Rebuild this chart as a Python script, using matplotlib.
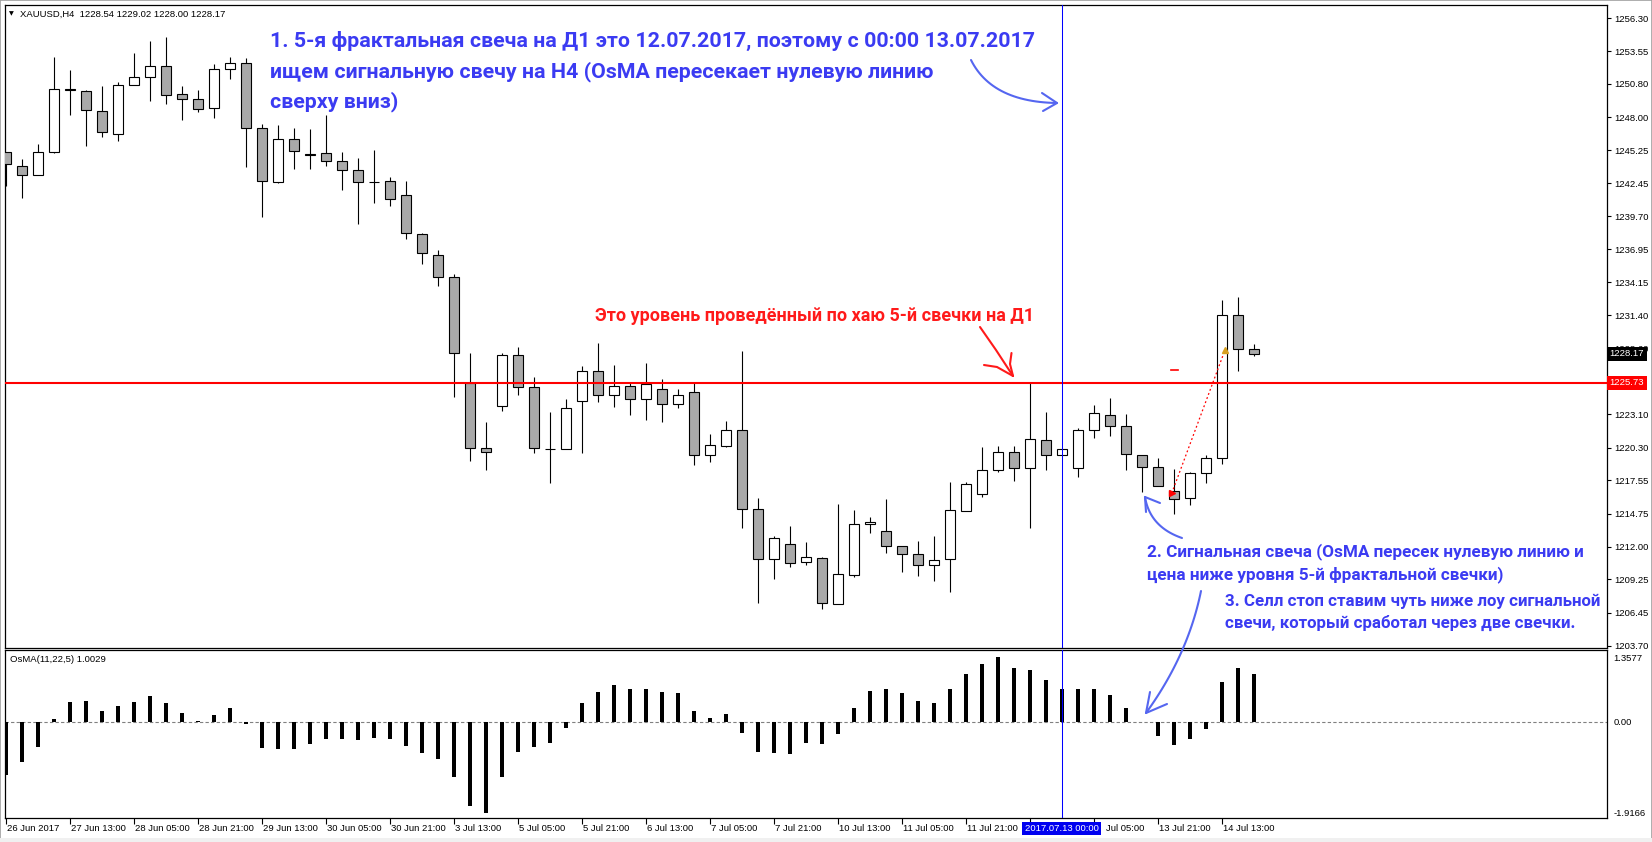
import numpy as np
import matplotlib
matplotlib.use("Agg")
import matplotlib.pyplot as plt
import matplotlib.transforms as mtransforms
from matplotlib.patches import Rectangle
from matplotlib.lines import Line2D

# XAUUSD H4 bars, index 0..78 (left to right)
opens = [1245.07, 1243.89, 1243.14, 1245.12, 1250.35, 1250.18, 1248.53, 1246.57, 1250.68, 1251.35,
         1252.28, 1249.93, 1249.51, 1248.80, 1252.02, 1252.53, 1247.08, 1242.55, 1246.16, 1244.90,
         1244.98, 1244.31, 1243.56, 1242.58, 1242.63, 1241.46, 1238.19, 1236.43, 1234.59, 1225.73,
         1220.25, 1223.77, 1228.05, 1225.36, 1220.19, 1220.16, 1224.19, 1226.70, 1224.69, 1225.45,
         1224.36, 1225.20, 1223.94, 1224.94, 1219.66, 1220.42, 1221.76, 1215.14, 1210.94, 1212.20,
         1210.69, 1211.03, 1207.17, 1209.60, 1213.88, 1213.29, 1212.03, 1211.36, 1210.44, 1210.94,
         1214.97, 1216.39, 1218.41, 1219.91, 1218.57, 1220.92, 1219.66, 1218.57, 1221.76, 1223.02,
         1222.09, 1219.66, 1218.66, 1216.64, 1216.06, 1218.15, 1219.41, 1231.40, 1228.54]
highs = [1245.12, 1244.48, 1245.76, 1253.06, 1251.97, 1250.25, 1250.62, 1250.96, 1253.39, 1254.40,
         1254.73, 1250.62, 1250.29, 1252.47, 1253.03, 1252.95, 1247.41, 1247.35, 1247.08, 1246.99,
         1248.19, 1245.09, 1244.56, 1245.23, 1242.97, 1242.66, 1238.27, 1236.85, 1234.86, 1228.24,
         1222.45, 1228.24, 1228.74, 1226.20, 1223.27, 1224.38, 1227.15, 1229.08, 1227.23, 1225.70,
         1227.40, 1226.03, 1225.20, 1225.70, 1221.42, 1222.54, 1228.41, 1216.06, 1212.87, 1213.71,
         1212.37, 1211.10, 1215.55, 1215.10, 1214.46, 1215.97, 1212.03, 1212.45, 1212.87, 1217.42,
         1217.42, 1220.36, 1220.42, 1220.42, 1225.73, 1223.27, 1220.16, 1221.93, 1223.88, 1224.47,
         1223.10, 1219.66, 1219.41, 1218.49, 1218.23, 1219.66, 1232.66, 1232.91, 1229.02]
lows = [1242.27, 1241.26, 1243.14, 1245.03, 1248.19, 1245.62, 1246.37, 1246.04, 1250.68, 1249.39,
        1249.14, 1247.80, 1248.47, 1247.97, 1251.21, 1243.86, 1239.67, 1242.47, 1243.69, 1243.69,
        1243.94, 1241.93, 1239.08, 1240.84, 1240.59, 1237.82, 1235.68, 1233.83, 1224.58, 1219.21,
        1218.45, 1223.40, 1224.74, 1219.88, 1217.36, 1220.16, 1219.88, 1224.16, 1223.74, 1223.07,
        1222.65, 1222.48, 1223.65, 1218.88, 1219.13, 1220.34, 1213.59, 1207.30, 1209.27, 1210.27,
        1210.44, 1206.75, 1207.17, 1209.49, 1213.17, 1211.50, 1209.90, 1209.52, 1209.15, 1208.20,
        1214.97, 1216.19, 1218.24, 1217.53, 1213.54, 1218.41, 1219.66, 1217.82, 1221.09, 1221.26,
        1218.41, 1216.56, 1217.06, 1214.72, 1215.47, 1217.31, 1218.91, 1226.70, 1228.00]
closes = [1244.06, 1243.14, 1245.07, 1250.35, 1250.25, 1248.59, 1246.74, 1250.68, 1251.35, 1252.28,
          1249.84, 1249.51, 1248.67, 1252.02, 1252.53, 1247.08, 1242.63, 1246.16, 1245.15, 1244.86,
          1244.31, 1243.56, 1242.55, 1242.55, 1241.13, 1238.27, 1236.60, 1234.59, 1228.21, 1220.25,
          1219.91, 1228.05, 1225.36, 1220.25, 1220.16, 1223.60, 1226.70, 1224.69, 1225.45, 1224.36,
          1225.64, 1223.94, 1224.69, 1219.66, 1220.50, 1221.76, 1215.14, 1210.94, 1212.70, 1210.61,
          1211.11, 1207.25, 1209.69, 1213.88, 1214.10, 1212.03, 1211.36, 1210.44, 1210.86, 1215.05,
          1217.23, 1218.41, 1219.91, 1218.57, 1221.00, 1219.66, 1220.16, 1221.76, 1223.18, 1222.09,
          1219.75, 1218.66, 1217.06, 1215.97, 1218.15, 1219.41, 1231.40, 1228.55, 1228.17]
osma = [-1.116, -0.842, -0.526, 0.063, 0.414, 0.442, 0.232, 0.337, 0.421, 0.547,
        0.400, 0.189, 0.014, 0.147, 0.288, -0.049, -0.554, -0.575, -0.575, -0.463,
        -0.358, -0.358, -0.379, -0.337, -0.358, -0.505, -0.653, -0.779, -1.158, -1.768,
        -1.9166, -1.158, -0.632, -0.526, -0.442, -0.140, 0.386, 0.618, 0.765, 0.695,
        0.695, 0.625, 0.604, 0.232, 0.084, 0.168, -0.232, -0.632, -0.653, -0.674,
        -0.442, -0.463, -0.253, 0.288, 0.646, 0.695, 0.604, 0.435, 0.386, 0.681,
        1.004, 1.214, 1.3577, 1.130, 1.088, 0.877, 0.695, 0.681, 0.695, 0.568,
        0.288, -0.010, -0.302, -0.491, -0.365, -0.154, 0.835, 1.130, 1.0029]

# 1225.85 sits under the red level box, so only its tick is visible
price_ticks = [1256.30, 1253.55, 1250.80, 1248.00, 1245.25, 1242.45, 1239.70, 1236.95, 1234.15, 1231.40,
               1228.60, 1225.85, 1223.10, 1220.30, 1217.55, 1214.75, 1212.00, 1209.25, 1206.45, 1203.70]
hidden_price_ticks = [1225.85]
osma_ticks = [1.3577, 0.0, -1.9166]
osma_tick_labels = ["1.3577", "0.00", "-1.9166"]
time_bars = [0, 4, 8, 12, 16, 20, 24, 28, 32, 36, 40, 44, 48, 52, 56, 60, 64, 68, 72, 76]
time_labels = ["26 Jun 2017", "27 Jun 13:00", "28 Jun 05:00", "28 Jun 21:00", "29 Jun 13:00",
               "30 Jun 05:00", "30 Jun 21:00", "3 Jul 13:00", "5 Jul 05:00", "5 Jul 21:00",
               "6 Jul 13:00", "7 Jul 05:00", "7 Jul 21:00", "10 Jul 13:00", "11 Jul 05:00",
               "11 Jul 21:00", "", "Jul 05:00", "13 Jul 21:00", "14 Jul 13:00"]

level_price = 1225.73
vline_bar = 66
vline_label = "2017.07.13 00:00"
last_price = 1228.17
trade_open = (72.86, 1216.48)
trade_close = (76.19, 1228.50)
stop_mark = (73.0, 1226.84)
header = "XAUUSD,H4  1228.54 1229.02 1228.00 1228.17"
osma_header = "OsMA(11,22,5) 1.0029"

plt.rcParams['font.family'] = ['Liberation Sans Narrow', 'Liberation Sans', 'DejaVu Sans']
small = 6.8
ann_font = ['Roboto', 'Open Sans', 'DejaVu Sans']
blue_txt = '#3b3bf2'
blue_pen = '#5566f0'

W, H = 1652, 842
fig = plt.figure(figsize=(W / 100, H / 100), dpi=100)
fig.patch.set_facecolor('white')


def fx(x):
    return x / W


def fy(y):
    return 1 - y / H


# panels placed to match the terminal window (pixels)
L, R = 5, 1607
ax = fig.add_axes([fx(L), fy(648.3), (R - L) / W, (648.3 - 5) / H])
ax2 = fig.add_axes([fx(L), fy(818.3), (R - L) / W, (818.3 - 650) / H])

n = len(opens)
idx = np.arange(n)
xlim = ((L - 6) / 16, (R - 6) / 16)

# candles
for i in range(n):
    o, h, l, c = opens[i], highs[i], lows[i], closes[i]
    ax.vlines(i, l, h, color='black', lw=0.8, zorder=2)
    bot = min(o, c)
    hgt = max(abs(c - o), 0.06)
    fc = 'white' if c >= o else '#a9a9a9'
    ax.add_patch(Rectangle((i - 0.3, bot), 0.6, hgt, facecolor=fc, edgecolor='black', lw=0.8, zorder=3))

ax.axhline(level_price, color='#ff0000', lw=1.5, zorder=4)
ax.axvline(vline_bar, color='#0000ff', lw=0.75, zorder=4)

# trade marks
ax.plot([trade_open[0], trade_close[0]], [trade_open[1], trade_close[1]], color='red', lw=0.9,
        ls=(0, (1.5, 2)), zorder=5)
ax.plot(trade_open[0], trade_open[1], marker='>', color='red', ms=5, zorder=6)
ax.plot(trade_close[0], trade_close[1], marker='^', color='#d8a020', ms=5, zorder=6)
ax.plot([stop_mark[0] - 0.2, stop_mark[0] + 0.25], [stop_mark[1]] * 2, color='red', lw=1.2, zorder=5)

ax.set_xlim(*xlim)
ax.set_ylim(1203.48, 1257.415)
ax.set_xticks([])
ax.yaxis.tick_right()
ax.set_yticks(price_ticks)
ax.set_yticklabels(["" if p in hidden_price_ticks else "%.2f" % p for p in price_ticks])
ax.tick_params(axis='y', length=3, width=0.8, pad=2, labelsize=small)
for s in ax.spines.values():
    s.set_linewidth(0.9)

# price boxes on the scale
yt = mtransforms.blended_transform_factory(ax.transAxes, ax.transData)
ax.text(1.0015, last_price, "%.2f" % last_price, transform=yt,
        ha='left', va='center', color='white', fontsize=small, zorder=10, clip_on=False,
        bbox=dict(facecolor='black', edgecolor='none', pad=2.0))
ax.text(1.0015, level_price, "%.2f" % level_price, transform=yt,
        ha='left', va='center', color='white', fontsize=small, zorder=10, clip_on=False,
        bbox=dict(facecolor='#ff0000', edgecolor='none', pad=2.0))

# OsMA panel
ax2.bar(idx, osma, width=0.2, color='black', zorder=3)
ax2.axhline(0, color='#808080', lw=0.8, ls=(0, (3, 2)), zorder=2)
ax2.axvline(vline_bar, color='#0000ff', lw=0.75, zorder=4)
ax2.set_xlim(*xlim)
ax2.set_ylim(-2.034, 1.511)
ax2.yaxis.tick_right()
ax2.set_yticks(osma_ticks)
ax2.set_yticklabels(osma_tick_labels)
ax2.tick_params(axis='y', length=0, pad=4.5, labelsize=small)
ax2.set_xticks(time_bars)
ax2.tick_params(axis='x', length=4, width=0.8, labelbottom=False)
for s in ax2.spines.values():
    s.set_linewidth(0.9)

bt = mtransforms.blended_transform_factory(ax2.transData, ax2.transAxes)
for b, lab in zip(time_bars, time_labels):
    if not lab:
        continue
    # the label right of the date box is partly covered in the terminal
    x = b + 0.75 if lab.startswith("Jul") else b + 0.07
    ax2.text(x, -0.063, lab, transform=bt, ha='left', va='center', fontsize=small, clip_on=False)
ax2.add_patch(Rectangle((vline_bar - 2.5, -0.099), 4.94, 0.077, transform=bt, facecolor='#0000f0',
                        edgecolor='none', clip_on=False, zorder=8))
ax2.text(vline_bar - 0.03, -0.06, vline_label, transform=bt, ha='center', va='center', color='white',
         fontsize=small, clip_on=False, zorder=9)

# headers
fig.text(fx(9), fy(14), u"\u25bc", fontsize=4.5, family='DejaVu Sans', va='center', ha='left')
fig.text(fx(20.5), fy(14), header, fontsize=small, va='center', ha='left')
fig.text(fx(10), fy(659.5), osma_header, fontsize=small, va='center', ha='left')

# window frame
fig.add_artist(Rectangle((0, 0), 1, 1, transform=fig.transFigure, fill=False, edgecolor='#a0a0a0', lw=1.2))
fig.add_artist(Rectangle((0, 0), 1, 4.5 / H, transform=fig.transFigure, facecolor='#f0f0f0', edgecolor='none'))

# annotations
rend = fig.canvas.get_renderer()


def fit_text(x, y, s, target_w, color, size0=14):
    t = fig.text(fx(x), fy(y), s, color=color, fontsize=size0, fontweight='bold', family=ann_font,
                 va='baseline', ha='left', zorder=20)
    w = t.get_window_extent(rend).width
    t.set_fontsize(size0 * target_w / w)
    return t.get_fontsize()


def plain_text(x, y, s, size, color):
    fig.text(fx(x), fy(y), s, color=color, fontsize=size, fontweight='bold', family=ann_font,
             va='baseline', ha='left', zorder=20)


sz = fit_text(270, 47, u"1. 5-я фрактальная свеча на Д1 это 12.07.2017, поэтому с 00:00 13.07.2017", 768, blue_txt)
plain_text(270, 77, u"ищем сигнальную свечу на Н4 (OsMA пересекает нулевую линию", sz, blue_txt)
plain_text(270, 107, u"сверху вниз)", sz, blue_txt)

fit_text(595, 321, u"Это уровень проведённый по хаю 5-й свечки на Д1", 437, '#ff1a1a', 11)

sz = fit_text(1147, 556, u"2. Сигнальная свеча (OsMA пересек нулевую линию и", 436, blue_txt, 11)
plain_text(1147, 579, u"цена ниже уровня 5-й фрактальной свечки)", sz, blue_txt)
sz = fit_text(1225, 606, u"3. Селл стоп ставим чуть ниже лоу сигнальной", 377, blue_txt, 11)
plain_text(1225, 628, u"свечи, который сработал через две свечки.", sz, blue_txt)


def pen(points, color, lw=1.5):
    pts = np.array(points, dtype=float)
    fig.add_artist(Line2D(fx(pts[:, 0]), fy(pts[:, 1]), color=color, lw=lw, solid_capstyle='round',
                          solid_joinstyle='round', zorder=25))


def bezier(p0, p1, p2, k=30):
    t = np.linspace(0, 1, k)[:, None]
    p0, p1, p2 = np.array(p0), np.array(p1), np.array(p2)
    return (1 - t) ** 2 * p0 + 2 * (1 - t) * t * p1 + t ** 2 * p2


# hand drawn arrows
pen(bezier((971, 60), (992, 102), (1057, 103)), blue_pen)
pen([(1042, 93), (1057, 103), (1043, 111)], blue_pen)

pen([(980, 327), (996, 350), (1013, 376)], '#ff1a1a')
pen([(984, 365), (997, 367), (1013, 376)], '#ff1a1a')
pen([(1011.5, 353), (1010, 364), (1013, 376)], '#ff1a1a')

pen(bezier((1182, 538), (1150, 527), (1145, 497)), blue_pen)
pen([(1146, 512), (1145, 497), (1160, 503)], blue_pen)

pen(bezier((1201, 591), (1188, 655), (1146, 713)), blue_pen)
pen([(1150, 692), (1146, 713), (1167, 704)], blue_pen)

fig.savefig("out.png", dpi=100, facecolor='white')
